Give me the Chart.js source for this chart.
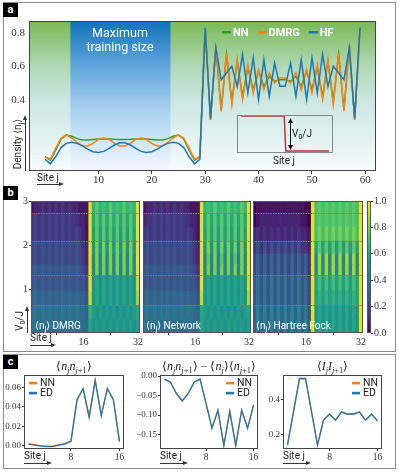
<!DOCTYPE html>
<html>
<head>
<meta charset="utf-8">
<script src="https://cdn.jsdelivr.net/npm/chart.js@4.4.1/dist/chart.umd.min.js"></script>
<style>
  body { margin: 0; background: #fff; }
  #fig { position: relative; width: 399px; height: 472px; overflow: hidden; font-family: Roboto, 'DejaVu Sans', sans-serif; color: #222; }
  #fig canvas { position: absolute; }
  .frame { position: absolute; border: 1px solid #8a8a8a; box-sizing: border-box; }
  .tag { position: absolute; width: 15px; height: 14px; background: #000; color: #fff; font-weight: bold; font-size: 11px; line-height: 14px; text-align: center; }
  .txt { position: absolute; white-space: nowrap; font-size: 10px; line-height: 12px; }
  .txt sub { font-size: 70%; vertical-align: -0.3em; line-height: 0; }
  .math { position: absolute; text-align: center; white-space: nowrap; font-family: 'Liberation Serif', serif; font-size: 12px; line-height: 14px; color: #222; }
  .math sub { font-size: 70%; vertical-align: -0.3em; line-height: 0; }
  .rot { transform: translate(-50%, -50%) rotate(-90deg); }
  .ah { position: absolute; height: 1px; background: #333; }
  .ah::after { content: ''; position: absolute; right: -2px; top: -2px; border-left: 5px solid #333; border-top: 2.5px solid transparent; border-bottom: 2.5px solid transparent; }
  .av { position: absolute; width: 1px; background: #333; }
  .av::after { content: ''; position: absolute; top: -2px; left: -2px; border-bottom: 5px solid #333; border-left: 2.5px solid transparent; border-right: 2.5px solid transparent; }
</style>
</head>
<body>
<div id="fig">
  <div class="frame" style="left:3px;top:2px;width:393px;height:350px"></div>
  <div class="frame" style="left:3px;top:354px;width:393px;height:115px"></div>
  <div class="tag" style="left:3px;top:3px">a</div>
  <div class="tag" style="left:3px;top:186px">b</div>
  <div class="tag" style="left:3px;top:355px">c</div>

  <!-- panel a -->
  <canvas id="chartA" width="399" height="184" style="left:0;top:0"></canvas>
  <canvas id="inset" width="96" height="38" style="left:237px;top:115px"></canvas>
  <div class="txt" style="left:70px;width:100px;top:26px;text-align:center;color:#fff;font-size:12.5px;line-height:13.5px">Maximum<br>training size</div>
  <div class="txt" style="left:292px;top:128px">V<sub>0</sub>/J</div>
  <div class="txt" style="left:273px;top:155px">Site j</div>
  <div class="txt rot" style="left:18px;top:144px">Density ⟨n<sub>j</sub>⟩</div>
  <div class="av" style="left:25px;top:117px;height:54px"></div>
  <div class="txt" style="left:37px;top:172px">Site j</div>
  <div class="ah" style="left:37px;top:184px;width:25px"></div>

  <!-- panel b -->
  <canvas id="hmDmrg" width="144" height="155" style="left:0;top:190px"></canvas>
  <canvas id="hmNet" width="114" height="155" style="left:141px;top:190px"></canvas>
  <canvas id="hmHf" width="116" height="155" style="left:251px;top:190px"></canvas>
  <canvas id="cbar" width="35" height="155" style="left:364px;top:190px"></canvas>
  <div class="txt" style="left:35px;top:320px;color:#fff">⟨n<sub>j</sub>⟩ DMRG</div>
  <div class="txt" style="left:146px;top:320px;color:#fff">⟨n<sub>j</sub>⟩ Network</div>
  <div class="txt" style="left:256px;top:320px;color:#fff">⟨n<sub>j</sub>⟩ Hartree Fock</div>
  <div class="txt rot" style="left:20px;top:321px">V<sub>0</sub>/J</div>
  <div class="av" style="left:27px;top:308px;height:25px"></div>
  <div class="txt" style="left:30px;top:332px">Site j</div>
  <div class="ah" style="left:30px;top:345px;width:24px"></div>

  <!-- panel c -->
  <canvas id="cCorr" width="130" height="114" style="left:0;top:356px"></canvas>
  <canvas id="cConn" width="132" height="114" style="left:130px;top:356px"></canvas>
  <canvas id="cCurr" width="126" height="114" style="left:262px;top:356px"></canvas>
  <div class="math" style="left:24px;width:100px;top:359px">⟨<i>n</i><sub><i>j</i></sub><i>n</i><sub><i>j</i>+1</sub>⟩</div>
  <div class="math" style="left:140px;width:138px;top:359px">⟨<i>n</i><sub><i>j</i></sub><i>n</i><sub><i>j</i>+1</sub>⟩ − ⟨<i>n</i><sub><i>j</i></sub>⟩⟨<i>n</i><sub><i>j</i>+1</sub>⟩</div>
  <div class="math" style="left:283px;width:99px;top:359px">⟨<i>I</i><sub><i>j</i></sub><i>I</i><sub><i>j</i>+1</sub>⟩</div>
  <div class="txt" style="left:24px;top:450px">Site j</div>
  <div class="ah" style="left:24px;top:463px;width:26px"></div>
  <div class="txt" style="left:160px;top:450px">Site j</div>
  <div class="ah" style="left:160px;top:463px;width:26px"></div>
  <div class="txt" style="left:283px;top:450px">Site j</div>
  <div class="ah" style="left:283px;top:463px;width:26px"></div>
</div>

<script>
// ---- panel a: density along the chain ----
const sitesA = Array.from({ length: 60 }, (_, i) => i);
const nnA = [0.060, 0.040, 0.100, 0.165, 0.190, 0.182, 0.168, 0.160, 0.160, 0.163,
  0.166, 0.167, 0.166, 0.164, 0.163, 0.163, 0.164, 0.166, 0.167, 0.166,
  0.163, 0.160, 0.160, 0.168, 0.182, 0.190, 0.165, 0.100, 0.040, 0.060,
  0.83, 0.28, 0.72, 0.34, 0.67, 0.39, 0.63, 0.42, 0.59, 0.46,
  0.57, 0.48, 0.54, 0.51, 0.52, 0.52, 0.51, 0.54, 0.48, 0.57,
  0.46, 0.59, 0.42, 0.63, 0.39, 0.67, 0.34, 0.72, 0.28, 0.83];
const dmrgA = [0.060, 0.045, 0.110, 0.170, 0.190, 0.172, 0.145, 0.126, 0.124, 0.140,
  0.163, 0.172, 0.163, 0.140, 0.124, 0.124, 0.140, 0.163, 0.172, 0.163,
  0.140, 0.124, 0.126, 0.145, 0.172, 0.190, 0.170, 0.110, 0.045, 0.060,
  0.83, 0.28, 0.73, 0.33, 0.68, 0.37, 0.64, 0.40, 0.61, 0.44,
  0.58, 0.46, 0.56, 0.50, 0.53, 0.53, 0.50, 0.56, 0.46, 0.58,
  0.44, 0.61, 0.40, 0.64, 0.37, 0.68, 0.33, 0.73, 0.28, 0.83];
const hfA = [0.045, 0.018, 0.060, 0.115, 0.140, 0.146, 0.140, 0.125, 0.105, 0.090,
  0.085, 0.092, 0.110, 0.130, 0.143, 0.143, 0.130, 0.110, 0.092, 0.085,
  0.090, 0.105, 0.125, 0.140, 0.146, 0.140, 0.115, 0.060, 0.018, 0.045,
  0.83, 0.29, 0.71, 0.52, 0.56, 0.60, 0.48, 0.67, 0.44, 0.65,
  0.40, 0.64, 0.42, 0.62, 0.48, 0.48, 0.62, 0.42, 0.64, 0.40,
  0.65, 0.44, 0.67, 0.48, 0.60, 0.56, 0.52, 0.71, 0.29, 0.83];
const xTicksA = [10, 20, 30, 40, 50, 60];
const yTicksA = [0.4, 0.6, 0.8];
const trainingBand = [4.75, 23.5];
const insetSites = [0, 29, 30, 59];
const insetPotential = [1, 1, 0, 0];
const insetArrowSite = 33;

// ---- panel b: density maps, rows from V0/J = 0 upwards ----
const sitesB = Array.from({ length: 32 }, (_, i) => i + 1);
const xTicksB = [16, 32];
const yTicksB = [1, 2, 3];
const vEdges = [0, 0.3, 0.63, 0.95, 1.31, 1.55, 1.8, 2.09, 2.4, 2.72, 3.0];
const phaseLines = [0.63, 1.31, 2.09, 2.72];
// one char per site, '0'..'k' = 0.00..1.00 in steps of 0.05
const dmrgRows = [
  '87878787878787877 cababababababab',
  '78787878787878776 dbababababababc',
  '67676767676767665 iacacacacacacah',
  '56565656565656554 jacacacacacacai',
  '56565656565656543 j9g9g9g9g9g9g9j',
  '45454545454545432 j9g9g9g9g9g9g9j',
  '45454545454545432 jagagagagagagaj',
  '34343434343434321 jbfbfbfbfbfbfbj',
  '34343434343433221 jcfcfcfcfcfcfcj',
  '12232323232322111 jdfdedfdedfdedj'];
const netRows = [
  '87878787878787877 cababababababab',
  '78787878787878776 cbababababababc',
  '67676767676767665 iacacacacacacah',
  '56565656565656554 jacacacacacacai',
  '56565656565656543 j9g9g9g9g9g9g9j',
  '45454545454545432 j9f9g9f9g9f9g9j',
  '45454545454545432 jagagagagagagaj',
  '34343434343434321 jbfbfbfbfbfbfbj',
  '23343434343433221 jcfcfcfcfcfcfcj',
  '12232323232322111 jdedfdedfdedfdj'];
const hfRows = [
  '69696969696969696 jacacacacacacaj',
  '69696969696969685 jacacacacacacaj',
  '58585858585858574 jbdbdbdbdbdbdbj',
  '58585858585858574 jbebebebebebebj',
  '47474747474747463 j9h9h9h9h9h9h9j',
  '47474747474747463 j9h9h9h9h9h9h9j',
  '35353535353535332 jbfbfbfbfbfbfbj',
  '23232323232323221 jegegegegegegej',
  '01222222222222110 jefefefefefefej',
  '01111111111111100 jefefefefefefej'];
const colorbarTicks = [0, 0.2, 0.4, 0.6, 0.8, 1.0];

// ---- panel c: bond correlators ----
const bondSites = Array.from({ length: 16 }, (_, i) => i + 1);
const xTicksC = [8, 16];
const nnCorr = [0.002, 0.001, 0.0, -0.0005, -0.0005, 0.001, 0.002, 0.005, 0.048, 0.059, 0.031, 0.068, 0.032, 0.059, 0.048, 0.005];
const edCorr = [0.0015, 0.0005, -0.0005, -0.001, -0.001, 0.0005, 0.0015, 0.0045, 0.047, 0.059, 0.029, 0.067, 0.031, 0.059, 0.047, 0.004];
const nnConn = [-0.008, -0.016, -0.044, -0.063, -0.044, -0.016, -0.008, -0.07, -0.133, -0.087, -0.177, -0.090, -0.177, -0.087, -0.133, -0.074];
const edConn = [-0.008, -0.016, -0.045, -0.064, -0.045, -0.016, -0.008, -0.07, -0.134, -0.088, -0.178, -0.091, -0.178, -0.088, -0.134, -0.075];
const nnCurr = [0.145, 0.33, 0.518, 0.518, 0.33, 0.145, 0.284, 0.318, 0.284, 0.33, 0.318, 0.318, 0.33, 0.284, 0.318, 0.28];
const edCurr = [0.143, 0.33, 0.515, 0.515, 0.33, 0.143, 0.282, 0.316, 0.282, 0.328, 0.316, 0.316, 0.328, 0.282, 0.316, 0.278];

const SERIF = "'Liberation Serif', 'DejaVu Serif', serif";
const SANS = "Roboto, 'DejaVu Sans', sans-serif";
const GREEN = '#2ca02c', ORANGE = '#ff7f0e', BLUE = '#1f77b4';
const LEVELS = '0123456789abcdefghijk';
const VIRIDIS = ['#440154', '#482475', '#414487', '#355f8d', '#2a788e', '#21918c', '#22a884', '#44bf70', '#7ad151', '#bddf26', '#fde725'];

Chart.defaults.font.family = SANS;

function rgb(hex) { return [1, 3, 5].map(i => parseInt(hex.slice(i, i + 2), 16)); }
function viridis(t) {
  t = Math.max(0, Math.min(1, t));
  const f = t * 10, i = Math.min(9, Math.floor(f)), u = f - i;
  const a = rgb(VIRIDIS[i]), b = rgb(VIRIDIS[i + 1]);
  return 'rgb(' + a.map((v, k) => Math.round(v + (b[k] - v) * u)).join(',') + ')';
}

const framePlugin = {
  id: 'frame',
  afterDraw(chart, args, opts) {
    const { ctx, chartArea: a } = chart;
    ctx.save();
    ctx.strokeStyle = opts.color || '#333';
    ctx.lineWidth = 1;
    ctx.strokeRect(Math.round(a.left) + 0.5, Math.round(a.top) + 0.5, Math.round(a.right - a.left) - 1, Math.round(a.bottom - a.top) - 1);
    ctx.restore();
  }
};

const bgA = {
  id: 'bgA',
  beforeDraw(chart) {
    const { ctx, chartArea: a, scales: { x } } = chart;
    let g = ctx.createLinearGradient(0, a.top, 0, a.bottom);
    g.addColorStop(0, 'rgb(122,185,86)');
    g.addColorStop(0.3, 'rgb(176,216,180)');
    g.addColorStop(0.55, 'rgb(205,232,228)');
    g.addColorStop(1, 'rgb(246,251,255)');
    ctx.fillStyle = g;
    ctx.fillRect(a.left, a.top, a.right - a.left, a.bottom - a.top);
    const x0 = x.getPixelForValue(trainingBand[0]), x1 = x.getPixelForValue(trainingBand[1]);
    g = ctx.createLinearGradient(0, a.top, 0, a.bottom);
    g.addColorStop(0, 'rgb(18,114,186)');
    g.addColorStop(0.3, 'rgb(95,165,220)');
    g.addColorStop(0.6, 'rgb(170,210,240)');
    g.addColorStop(1, 'rgb(244,249,255)');
    ctx.fillStyle = g;
    ctx.fillRect(x0, a.top, x1 - x0, a.bottom - a.top);
  }
};

const legendA = {
  id: 'legendA',
  afterDatasetsDraw(chart) {
    const { ctx } = chart;
    ctx.save();
    ctx.font = 'bold 11px ' + SANS;
    ctx.textBaseline = 'middle';
    let x = 222;
    const y = 32;
    chart.data.datasets.slice().reverse().forEach(ds => {
      ctx.fillStyle = ds.borderColor;
      ctx.fillRect(x, y - 1, 9, 2.5);
      ctx.fillStyle = '#fff';
      ctx.fillText(ds.label, x + 11, y + 1);
      x += 11 + ctx.measureText(ds.label).width + 9;
    });
    ctx.restore();
  }
};

new Chart(document.getElementById('chartA'), {
  type: 'line',
  data: {
    labels: sitesA,
    datasets: [
      { label: 'HF', data: hfA, borderColor: BLUE },
      { label: 'DMRG', data: dmrgA, borderColor: ORANGE },
      { label: 'NN', data: nnA, borderColor: GREEN }
    ]
  },
  options: {
    responsive: false, animation: false,
    layout: { padding: { left: 0, right: 23, top: 21, bottom: 0 } },
    elements: { point: { radius: 0 }, line: { borderWidth: 1.5, tension: 0 } },
    scales: {
      x: {
        type: 'linear', min: -3, max: 62,
        afterBuildTicks: s => { s.ticks = xTicksA.map(v => ({ value: v })); },
        afterFit: s => { s.height = 13; },
        grid: { drawOnChartArea: false, tickLength: 3, color: '#333' },
        border: { display: false },
        ticks: { font: { family: SERIF, size: 11 }, color: '#333', padding: 0, maxRotation: 0, autoSkip: false }
      },
      y: {
        min: -0.025, max: 0.87,
        afterBuildTicks: s => { s.ticks = yTicksA.map(v => ({ value: v })); },
        afterFit: s => { s.width = 29; },
        grid: { display: false, drawTicks: false },
        border: { display: false },
        ticks: { font: { family: SERIF, size: 11 }, color: '#333', padding: 4, callback: v => v.toFixed(1) }
      }
    },
    plugins: { legend: { display: false }, tooltip: { enabled: false }, frame: { color: '#444' } }
  },
  plugins: [bgA, legendA, framePlugin]
});

const vArrow = {
  id: 'vArrow',
  afterDatasetsDraw(chart) {
    const { ctx, scales: { x, y } } = chart;
    const px = Math.round(x.getPixelForValue(insetArrowSite)) + 0.5;
    const yt = y.getPixelForValue(1) + 2, yb = y.getPixelForValue(0) - 1;
    ctx.save();
    ctx.strokeStyle = ctx.fillStyle = '#111';
    ctx.lineWidth = 1;
    ctx.beginPath(); ctx.moveTo(px, yt + 3); ctx.lineTo(px, yb - 3); ctx.stroke();
    ctx.beginPath(); ctx.moveTo(px, yt); ctx.lineTo(px - 2.5, yt + 5); ctx.lineTo(px + 2.5, yt + 5); ctx.fill();
    ctx.beginPath(); ctx.moveTo(px, yb); ctx.lineTo(px - 2.5, yb - 5); ctx.lineTo(px + 2.5, yb - 5); ctx.fill();
    ctx.restore();
  }
};

new Chart(document.getElementById('inset'), {
  type: 'line',
  data: { labels: insetSites, datasets: [{ data: insetPotential, borderColor: '#b23a3a', borderWidth: 1.5 }] },
  options: {
    responsive: false, animation: false,
    layout: { padding: 0 },
    elements: { point: { radius: 0 }, line: { tension: 0 } },
    scales: {
      x: { type: 'linear', min: -2.7, max: 61.7, display: false },
      y: { min: -0.057, max: 1.029, display: false }
    },
    plugins: { legend: { display: false }, tooltip: { enabled: false }, frame: { color: '#888' } }
  },
  plugins: [vArrow, framePlugin]
});

// ---- heatmaps ----
const phasePlugin = {
  id: 'phase',
  afterDatasetsDraw(chart) {
    const { ctx, chartArea: a, scales: { y } } = chart;
    ctx.save();
    ctx.strokeStyle = 'rgb(226,88,34)';
    ctx.lineWidth = 1;
    ctx.setLineDash([1.5, 1]);
    phaseLines.forEach(v => {
      const py = Math.round(y.getPixelForValue(v)) + 0.5;
      ctx.beginPath(); ctx.moveTo(a.left, py); ctx.lineTo(a.right, py); ctx.stroke();
    });
    ctx.restore();
  }
};

function heatmap(id, rows, showY, padLeft) {
  const datasets = rows.map((row, r) => {
    const vals = [...row.replace(/ /g, '')].map(c => LEVELS.indexOf(c) / 20);
    return {
      data: sitesB.map(() => vEdges[r + 1] - vEdges[r]),
      backgroundColor: vals.map(viridis),
      borderWidth: 0, barPercentage: 1, categoryPercentage: 1, stack: 'v'
    };
  });
  new Chart(document.getElementById(id), {
    type: 'bar',
    data: { labels: sitesB, datasets },
    options: {
      responsive: false, animation: false,
      layout: { padding: { left: padLeft, right: 4, top: 11, bottom: 0 } },
      scales: {
        x: {
          stacked: true,
          afterBuildTicks: s => { s.ticks = s.ticks.filter(t => xTicksB.includes(sitesB[t.value])); },
          afterFit: s => { s.height = 12; },
          grid: { drawOnChartArea: false, tickLength: 2, color: '#333' },
          border: { display: false },
          ticks: { font: { family: SERIF, size: 10 }, color: '#333', padding: 1, maxRotation: 0, autoSkip: false }
        },
        y: {
          stacked: true, min: 0, max: 3, display: showY,
          afterBuildTicks: s => { s.ticks = yTicksB.map(v => ({ value: v })); },
          afterFit: s => { s.width = showY ? 31 : 0; },
          grid: { drawOnChartArea: false, tickLength: 2, color: '#333' },
          border: { display: false },
          ticks: { font: { family: SERIF, size: 10 }, color: '#333', padding: 1 }
        }
      },
      plugins: { legend: { display: false }, tooltip: { enabled: false }, frame: { color: '#555' } }
    },
    plugins: [phasePlugin, framePlugin]
  });
}
heatmap('hmDmrg', dmrgRows, true, 0);
heatmap('hmNet', netRows, false, 2);
heatmap('hmHf', hfRows, false, 2);

const cbFill = {
  id: 'cbFill',
  beforeDatasetsDraw(chart) {
    const { ctx, chartArea: a } = chart;
    const g = ctx.createLinearGradient(0, a.bottom, 0, a.top);
    VIRIDIS.forEach((c, i) => g.addColorStop(i / (VIRIDIS.length - 1), c));
    ctx.fillStyle = g;
    ctx.fillRect(a.left, a.top, a.right - a.left, a.bottom - a.top);
  }
};
new Chart(document.getElementById('cbar'), {
  type: 'scatter',
  data: { datasets: [{ data: [] }] },
  options: {
    responsive: false, animation: false,
    layout: { padding: { left: 3, right: 0, top: 11, bottom: 12 } },
    scales: {
      x: { min: 0, max: 1, display: false },
      y: {
        position: 'right', min: 0, max: 1,
        afterBuildTicks: s => { s.ticks = colorbarTicks.map(v => ({ value: v })); },
        afterFit: s => { s.width = 28; },
        grid: { drawOnChartArea: false, tickLength: 2, color: '#333' },
        border: { display: false },
        ticks: { font: { family: SERIF, size: 10 }, color: '#333', padding: 1, callback: v => v.toFixed(1) }
      }
    },
    plugins: { legend: { display: false }, tooltip: { enabled: false }, frame: { color: '#555' } }
  },
  plugins: [cbFill, framePlugin]
});

// ---- panel c ----
const legendC = {
  id: 'legendC',
  afterDatasetsDraw(chart, args, o) {
    const { ctx } = chart;
    ctx.save();
    ctx.font = '10.5px ' + SANS;
    ctx.textBaseline = 'middle';
    chart.data.datasets.slice().reverse().forEach((ds, i) => {
      const y = o.y + i * 10;
      ctx.fillStyle = ds.borderColor;
      ctx.fillRect(o.x, y - 1.2, 8, 2.6);
      ctx.fillStyle = '#222';
      ctx.fillText(ds.label, o.x + 11, y + 0.5);
    });
    ctx.restore();
  }
};

function bondChart(id, nn, ed, yMin, yMax, yTicks, fmt, yWidth, padRight, legX) {
  new Chart(document.getElementById(id), {
    type: 'line',
    data: {
      labels: bondSites,
      datasets: [
        { label: 'ED', data: ed, borderColor: BLUE },
        { label: 'NN', data: nn, borderColor: ORANGE }
      ]
    },
    options: {
      responsive: false, animation: false,
      layout: { padding: { left: 0, right: padRight, top: 19, bottom: 0 } },
      elements: { point: { radius: 0 }, line: { borderWidth: 1.3, tension: 0 } },
      scales: {
        x: {
          type: 'linear', min: 0.25, max: 16.75,
          afterBuildTicks: s => { s.ticks = xTicksC.map(v => ({ value: v })); },
          afterFit: s => { s.height = 21; },
          grid: { drawOnChartArea: false, tickLength: 2, color: '#333' },
          border: { display: false },
          ticks: { font: { family: SERIF, size: 9.5 }, color: '#333', padding: 1, maxRotation: 0, autoSkip: false }
        },
        y: {
          min: yMin, max: yMax,
          afterBuildTicks: s => { s.ticks = yTicks.map(v => ({ value: v })); },
          afterFit: s => { s.width = yWidth; },
          grid: { drawOnChartArea: false, tickLength: 2, color: '#333' },
          border: { display: false },
          ticks: { font: { family: SERIF, size: 9 }, color: '#333', padding: 1, callback: fmt }
        }
      },
      plugins: { legend: { display: false }, tooltip: { enabled: false }, frame: { color: '#444' }, legendC: { x: legX, y: 27 } }
    },
    plugins: [legendC, framePlugin]
  });
}
const signed = d => v => (v < 0 ? '\u2212' : '') + Math.abs(v).toFixed(d);
bondChart('cCorr', nnCorr, edCorr, -0.0035, 0.073, [0, 0.02, 0.04, 0.06], signed(2), 24, 6, 29);
bondChart('cConn', nnConn, edConn, -0.187, 0.0026, [0, -0.05, -0.1, -0.15], signed(2), 30, 4, 96);
bondChart('cCurr', nnCurr, edCurr, 0.121, 0.536, [0.2, 0.4], signed(1), 21, 6, 90);
</script>
</body>
</html>
